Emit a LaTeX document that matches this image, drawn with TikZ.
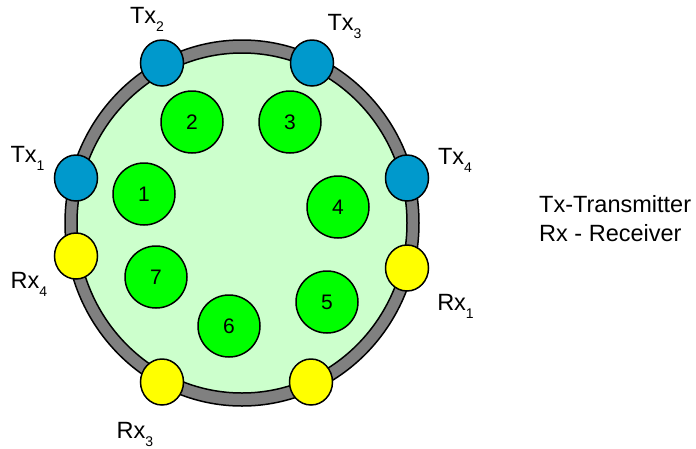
\documentclass[tikz,border=0pt]{standalone}
\usepackage{fontspec}
\setmainfont{Liberation Sans}
\usepackage{xcolor}
\usepackage{tikz}
\usetikzlibrary{positioning, shapes.geometric}

\definecolor{txblue}{HTML}{0099CC}
\definecolor{rxyellow}{HTML}{FFFF00}
\definecolor{spotgreen}{HTML}{00FF00}
\definecolor{padgreen}{HTML}{CCFFCC}
\definecolor{ringgray}{HTML}{808080}

\newcommand{\idx}[1]{\raisebox{-8pt}{\fontsize{14}{14}\selectfont #1}}

\begin{document}
\begin{tikzpicture}[
      x=1pt, y=-1pt,
      font=\fontsize{23.5}{28}\selectfont,
      port/.style={
        ellipse,
        draw,
        line width=1.5pt,
        minimum width=43pt,
        minimum height=46pt,
        inner sep=0pt
      },
      tx/.style={port, fill=txblue},
      rx/.style={port, fill=rxyellow},
      spot/.style={
        circle,
        draw,
        line width=1.5pt,
        fill=spotgreen,
        minimum size=62pt,
        inner sep=0pt,
        font=\fontsize{21}{24}\selectfont
      },
      lbl/.style={inner sep=0pt},
      legend/.style={inner sep=0pt, anchor=base west}
    ]
    \useasboundingbox (0,0) rectangle (696,448);
    % ring and pad
    \draw[line width=1.5pt, fill=ringgray] (242,223) ellipse [x radius=177, y radius=183];
    \draw[line width=1.5pt, fill=padgreen] (242,223) ellipse [x radius=165, y radius=170];
    % transmitters and receivers
    \node[tx] (tx1) at (76,178) {};
    \node[tx] (tx2) at (162,63) {};
    \node[tx] (tx3) at (312,63) {};
    \node[tx] (tx4) at (407,178) {};
    \node[rx] (rx1) at (407,268) {};
    \node[rx] (rx2) at (311,382) {};
    \node[rx] (rx3) at (162,382) {};
    \node[rx] (rx4) at (76,256) {};
    % spots
    \node[spot] (s1) at (144,194) {1};
    \node[spot] (s2) at (192,122) {2};
    \node[spot] (s3) at (290,122) {3};
    \node[spot] (s4) at (338,207) {4};
    \node[spot] (s5) at (327,302) {5};
    \node[spot] (s6) at (229,326) {6};
    \node[spot] (s7) at (156,277) {7};
    % labels
    \node[lbl] (tx1l) at ([shift={(-48.5,-19.5)}]tx1) {Tx\idx{1}};
    \node[lbl] (tx2l) at ([shift={(-15,-43.5)}]tx2) {Tx\idx{2}};
    \node[lbl] (tx3l) at ([shift={(32.5,-36.5)}]tx3) {Tx\idx{3}};
    \node[lbl] (tx4l) at ([shift={(48,-17.5)}]tx4) {Tx\idx{4}};
    \node[lbl] (rx1l) at ([shift={(48.5,38)}]rx1) {Rx\idx{1}};
    \node[lbl] (rx3l) at ([shift={(-27,52)}]rx3) {Rx\idx{3}};
    \node[lbl] (rx4l) at ([shift={(-47,28.5)}]rx4) {Rx\idx{4}};
    % key
    \node[legend] (key1) at (539,212) {Tx-Transmitter};
    \node[legend] (key2) at ([yshift=-29pt]key1.base west) {Rx - Receiver};
  \end{tikzpicture}
\end{document}
